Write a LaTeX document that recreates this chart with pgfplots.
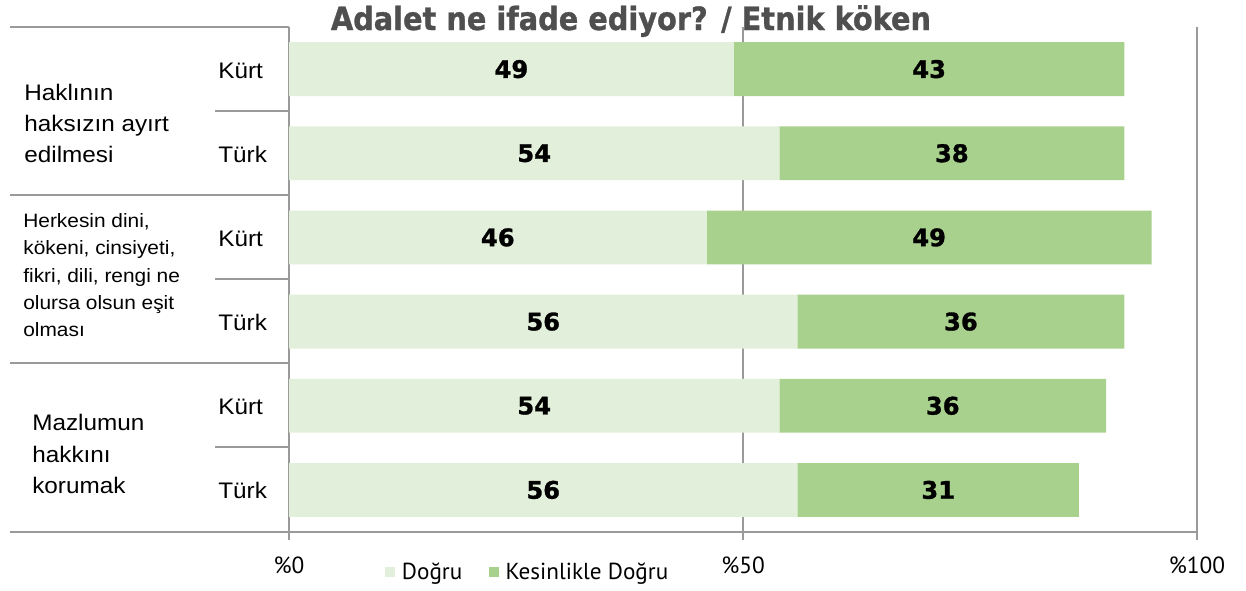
\documentclass[border=0pt]{standalone}
\usepackage{fontspec}
\setmainfont{Liberation Sans}[FakeStretch=1.08]
\setsansfont{DejaVu Sans}[BoldFeatures={FakeBold=1.2}]
\newfontfamily\ptsans{PT Sans}
\newfontfamily\titlefont{DejaVu Sans Condensed}[BoldFeatures={FakeBold=1}]
\usepackage{pgfplots}
\pgfplotsset{compat=1.18}
\definecolor{lightg}{HTML}{E2EFDA}
\definecolor{darkg}{HTML}{A9D18E}
\definecolor{linegray}{HTML}{9A9A9A}
\definecolor{titlegray}{HTML}{4F4F4F}
\pgfplotsset{sqlegend/.style={legend image code/.code={\fill[##1,draw=none] (0pt,-3pt) rectangle (6pt,3pt); \path (0pt,0pt) -- (8pt,0pt);}}}
\begin{document}
\begin{tikzpicture}
\path[use as bounding box] (0,0) rectangle (747.6pt,-354pt);
\begin{axis}[
  at={(173.4pt,-319.2pt)}, anchor=south west,
  scale only axis, width=544.8pt, height=303pt,
  xbar stacked, bar width=0.64,
  xmin=0, xmax=100, ymin=-0.5, ymax=5.5, y dir=reverse,
  axis x line*=bottom, axis y line*=left,
  axis line style={draw=linegray, line width=0.9pt, -},
  xtick={0,50,100}, xticklabels={\%0,\%50,\%100},
  ytick=\empty,
  xmajorgrids, grid style={linegray, line width=0.9pt},
  tick align=outside, major tick length=4.8pt,
  tick style={linegray, line width=0.9pt},
  xticklabel style={font=\ptsans\fontsize{14}{16}\selectfont, yshift=-6.8pt},
  legend style={at={(0.1057,-0.0792)}, anchor=west, draw=none, fill=none,
    inner sep=0pt, legend columns=2,
    font=\ptsans\fontsize{13.9}{15}\selectfont,
    /tikz/every even column/.append style={column sep=14pt}},
  sqlegend,
  visualization depends on=rawx\as\rawx,
  nodes near coords={\pgfmathprintnumber[assume math mode=true, precision=0]{\rawx}},
  nodes near coords style={font=\sffamily\bfseries\fontsize{14.5}{16}\selectfont, text=black, anchor=center},
  clip=false,
]
\addplot[fill=lightg, draw=none, sqlegend] coordinates {(49,0) (54,1) (46,2) (56,3) (54,4) (56,5)};
\addplot[fill=darkg, draw=none, sqlegend] coordinates {(43,0) (38,1) (49,2) (36,3) (36,4) (31,5)};
\legend{Doğru, Kesinlikle Doğru}
\end{axis}
\begin{scope}[x=0.6pt, y=-0.6pt]
\draw[linegray, line width=0.9pt] (10,27) -- (289,27) (10,195) -- (289,195) (10,363) -- (289,363) (10,532) -- (289,532);
\draw[linegray, line width=0.9pt] (215,111) -- (289,111) (215,279) -- (289,279) (215,447) -- (289,447);
\node[anchor=base, font=\titlefont\bfseries\fontsize{19.2}{21}\selectfont, text=titlegray, inner sep=0pt] at (631,30) {Adalet ne ifade ediyor? / Etnik köken};
\begin{scope}[every node/.style={anchor=base west, inner sep=0pt, font=\fontsize{13.5}{16}\selectfont}]
\node at (218,78) {Kürt};
\node at (218,162) {Türk};
\node at (218,246) {Kürt};
\node at (218,330) {Türk};
\node at (218,414) {Kürt};
\node at (218,498) {Türk};
\node at (24,100) {Haklının};
\node at (24,131) {haksızın ayırt};
\node at (24,162) {edilmesi};
\node at (32,430) {Mazlumun};
\node at (32,462) {hakkını};
\node at (32,493) {korumak};
\end{scope}
\begin{scope}[every node/.style={anchor=base west, inner sep=0pt, font=\fontsize{11.6}{13}\selectfont}]
\node at (23,227) {Herkesin dini,};
\node at (23,254.5) {kökeni, cinsiyeti,};
\node at (23,282) {fikri, dili, rengi ne};
\node at (23,309) {olursa olsun eşit};
\node at (23,336.5) {olması};
\end{scope}
\end{scope}
\end{tikzpicture}
\end{document}
